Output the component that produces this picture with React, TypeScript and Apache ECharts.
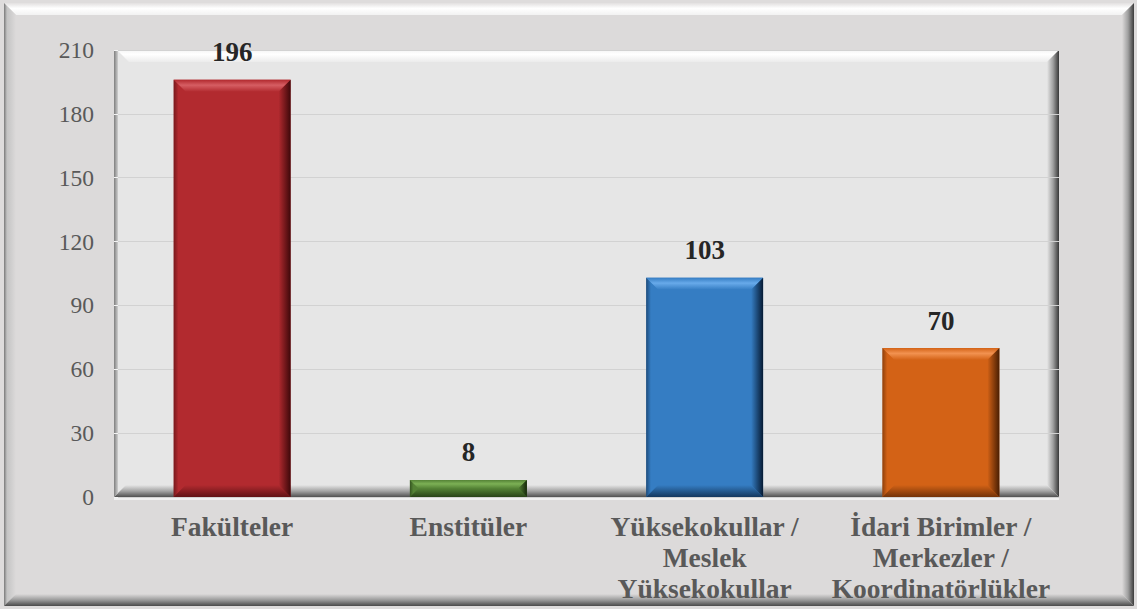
import React, { useEffect, useRef } from "react";
import * as echarts from "echarts";

const categories = [
  "Fakülteler",
  "Enstitüler",
  "Yüksekokullar /\nMeslek\nYüksekokullar",
  "İdari Birimler /\nMerkezler /\nKoordinatörlükler",
];
const values = [196, 8, 103, 70];
const baseColors = ["#b22a2f", "#548235", "#357dc3", "#d36216"];
const lightColors = ["#d65e63", "#7cb055", "#68aaea", "#f29250"];
const darkColors = ["#3e080a", "#16280b", "#061a33", "#4a1f03"];
const yTicks = { min: 0, max: 210, interval: 30 };

const GL = 114, GT = 50, GR = 1059, GB = 497;
const FONT = "Liberation Serif";

export default function App() {
  const ref = useRef<HTMLDivElement>(null);
  useEffect(() => {
    if (!ref.current) return;
    const chart = echarts.init(ref.current, null, { renderer: "svg" });
    const grad = (x2: number, y2: number, stops: [number, string][]) => ({
      type: "linear", x: 0, y: 0, x2, y2,
      colorStops: stops.map(([offset, color]) => ({ offset, color })),
    });
    const B = 12;
    const graphics: any[] = [
      { type: "rect", z: -10, shape: { x: 4, y: 3, width: 1130, height: 603 }, style: { fill: "#dcdada" } },
      { type: "polygon", z: -9, shape: { points: [[4, 3], [1134, 3], [1122, 15], [16, 15]] }, style: { fill: grad(0, 1, [[0, "#e2e0e0"], [0.45, "#ffffff"], [1, "#f2f2f2"]]) } },
      { type: "polygon", z: -9, shape: { points: [[4, 3], [16, 15], [16, 594], [4, 606]] }, style: { fill: grad(1, 0, [[0, "#7a7a7a"], [0.25, "#c4c4c4"], [1, "#dcdada"]]) } },
      { type: "polygon", z: -9, shape: { points: [[1134, 3], [1134, 606], [1122, 594], [1122, 15]] }, style: { fill: grad(1, 0, [[0, "#dcdada"], [0.5, "#a0a0a0"], [1, "#3c3c3c"]]) } },
      { type: "polygon", z: -9, shape: { points: [[4, 606], [1134, 606], [1122, 594], [16, 594]] }, style: { fill: grad(0, 1, [[0, "#dcdada"], [0.5, "#9a9a9a"], [1, "#4a4a4a"]]) } },
      { type: "rect", z: -8, shape: { x: GL, y: GT, width: GR - GL, height: GB - GT }, style: { fill: "#e6e6e6" } },
      { type: "polygon", z: -7, shape: { points: [[GL + 3, GT], [GR, GT], [GR - B, GT + B], [GL + 3 + B, GT + B]] }, style: { fill: grad(0, 1, [[0, "#f4f4f4"], [0.35, "#ffffff"], [1, "#ececec"]]) } },
      { type: "polygon", z: -7, shape: { points: [[GR, GT], [GR, GB], [GR - B, GB - B], [GR - B, GT + B]] }, style: { fill: grad(1, 0, [[0, "#e6e6e6"], [0.5, "#a0a0a0"], [1, "#383838"]]) } },
      { type: "polygon", z: -7, shape: { points: [[GL, GB], [GR, GB], [GR - B, GB - B], [GL + B, GB - B]] }, style: { fill: grad(0, 1, [[0, "#e6e6e6"], [0.5, "#a4a4a4"], [1, "#505050"]]) } },
      { type: "polygon", z: -7, shape: { points: [[GL, GT], [GL + 4, GT], [GL + 4, GB - 4], [GL, GB]] }, style: { fill: grad(1, 0, [[0, "#7e7e7e"], [1, "#cfcfcf"]]) } },
      { type: "rect", z: -7, shape: { x: GL, y: GB, width: GR - GL, height: 3 }, style: { fill: "#f0f0f0" } },
    ];

    const renderItem = (params: any, api: any) => {
      const idx = api.value(0);
      const v = api.value(1);
      const top = api.coord([idx, v]);
      const base = api.coord([idx, 0]);
      const w = api.size([1, 0])[0] * 0.495;
      const x0 = top[0] - w / 2, x1 = top[0] + w / 2, y0 = top[1], y1 = base[1];
      const b = Math.min(12, (y1 - y0) / 2);
      const c = baseColors[idx], l = lightColors[idx], d = darkColors[idx];
      return {
        type: "group",
        children: [
          { type: "polygon", shape: { points: [[x0, y0], [x1, y0], [x1 - b, y0 + b], [x0 + b, y0 + b]] }, style: { fill: grad(0, 1, [[0, c], [0.45, l], [1, c]]) } },
          { type: "polygon", shape: { points: [[x1, y0], [x1, y1], [x1 - b, y1 - b], [x1 - b, y0 + b]] }, style: { fill: grad(1, 0, [[0, c], [1, d]]) } },
          { type: "polygon", shape: { points: [[x0, y0], [x0 + b, y0 + b], [x0 + b, y1 - b], [x0, y1]] }, style: { fill: grad(1, 0, [[0, d], [0.4, c], [1, c]]), opacity: 0.5 } },
          { type: "polygon", shape: { points: [[x0, y1], [x1, y1], [x1 - b, y1 - b], [x0 + b, y1 - b]] }, style: { fill: grad(0, 1, [[0, c], [1, d]]), opacity: 0.7 } },
        ],
      };
    };

    chart.setOption({
      animation: false,
      backgroundColor: "#dedcdc",
      graphic: { elements: graphics },
      grid: { left: GL, top: GT, right: 1137 - GR, bottom: 609 - GB, containLabel: false },
      xAxis: {
        type: "category",
        data: categories,
        z: 1,
        axisLine: { show: false },
        axisTick: { show: false },
        axisLabel: {
          interval: 0,
          margin: 14,
          fontFamily: FONT,
          fontSize: 27.5,
          fontWeight: "bold",
          lineHeight: 31,
          color: "#595959",
        },
      },
      yAxis: {
        type: "value",
        min: yTicks.min,
        max: yTicks.max,
        interval: yTicks.interval,
        z: 1,
        axisLine: { show: false },
        axisTick: { show: true, length: 4, inside: true, lineStyle: { color: "#f4f4f4" } },
        splitLine: { lineStyle: { color: "#d2d2d2", width: 1.2 } },
        axisLabel: { margin: 20, fontFamily: FONT, fontSize: 23.5, color: "#595959" },
      },
      series: [
        {
          type: "bar",
          barWidth: "49.5%",
          z: 2,
          data: values.map((v, i) => ({ value: v, itemStyle: { color: baseColors[i] } })),
          label: {
            show: true,
            position: "top",
            distance: 14,
            fontFamily: FONT,
            fontSize: 27,
            fontWeight: "bold",
            color: "#262626",
          },
        },
        {
          type: "custom",
          z: 3,
          renderItem,
          data: values.map((v, i) => [i, v]),
          silent: true,
        },
      ],
    });
    return () => chart.dispose();
  }, []);
  return <div ref={ref} style={{ position: "fixed", left: 0, top: 0, width: 1137, height: 609 }} />;
}
